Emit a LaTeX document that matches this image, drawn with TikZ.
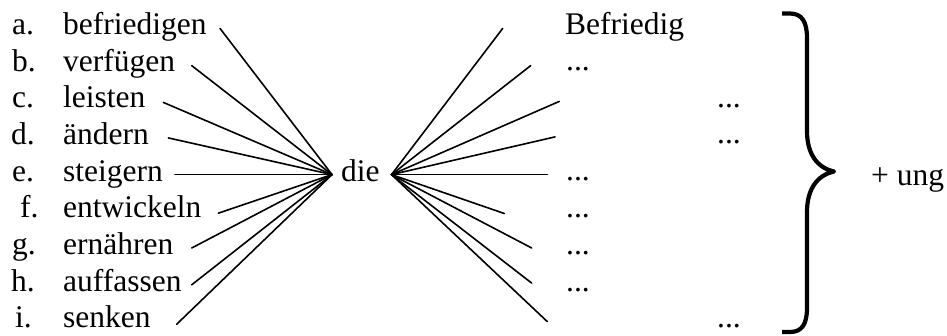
\documentclass[tikz,border=0pt]{standalone}
\usepackage{fontspec}
\setmainfont{Liberation Serif}
\begin{document}
\begin{tikzpicture}[x=1pt,y=-1pt,
  txt/.style={anchor=base west, inner sep=0pt, font=\fontsize{31.5}{36}\selectfont},
  conn/.style={line width=1.6pt, line cap=round},
  bracestyle/.style={line width=4.2pt, line join=round}]
\useasboundingbox (0,0) rectangle (947,335);
% letters
\node[txt] (la) at (12,34.3) {a.};
\node[txt] (lb) at (12,71.0) {b.};
\node[txt] (lc) at (12,107.7) {c.};
\node[txt] (ld) at (11,144.4) {d.};
\node[txt] (le) at (12,181.1) {e.};
\node[txt] (lf) at (20,217.8) {f.};
\node[txt] (lg) at (12,254.5) {g.};
\node[txt] (lh) at (11,291.2) {h.};
\node[txt] (li) at (15,327.9) {i.};
% words
\node[txt] (wa) at (63,34.3) {befriedigen};
\node[txt] (wb) at (63,71.0) {verfügen};
\node[txt] (wc) at (63,107.7) {leisten};
\node[txt] (wd) at (63,144.4) {ändern};
\node[txt] (we) at (63,181.1) {steigern};
\node[txt] (wf) at (63,217.8) {entwickeln};
\node[txt] (wg) at (63,254.5) {ernähren};
\node[txt] (wh) at (63,291.2) {auffassen};
\node[txt] (wi) at (63,327.9) {senken};
% die
\node[txt] (die) at (341,181.1) {die};
\coordinate (dl) at (332,174.6);
\coordinate (dr) at (391.5,174.6);
% left line starts
\coordinate (sa) at (220,28.4);
\coordinate (sb) at (191.7,65.6);
\coordinate (sc) at (163.3,102.4);
\coordinate (sd) at (168.3,137.9);
\coordinate (se) at (175,174.6);
\coordinate (sf) at (218.3,213.2);
\coordinate (sg) at (191.7,248.0);
\coordinate (sh) at (191.7,284.8);
\coordinate (si) at (176.7,324.2);
\foreach \s in {sa,sb,sc,sd,se,sf,sg,sh,si} \draw[conn] (\s) -- (dl);
% right line ends
\coordinate (ea) at (502.7,28.4);
\coordinate (eb) at (530.7,65.6);
\coordinate (ec) at (559.3,101.4);
\coordinate (ed) at (555,136.9);
\coordinate (ee) at (547.3,174.6);
\coordinate (ef) at (504.3,213.5);
\coordinate (eg) at (531.7,248.0);
\coordinate (eh) at (531.7,283.1);
\coordinate (ei) at (547.3,321.6);
\foreach \e in {ea,eb,ec,ed,ee,ef,eg,eh,ei} \draw[conn] (dr) -- (\e);
% right texts
\node[txt] (ra) at (565,34.3) {Befriedig};
\node[txt] (rb) at (566,70.5) {...};
\node[txt] (rc) at (717,107.0) {...};
\node[txt] (rd) at (717,143.5) {...};
\node[txt] (re) at (566,180.8) {...};
\node[txt] (rf) at (566,217.4) {...};
\node[txt] (rg) at (566,254.0) {...};
\node[txt] (rh) at (566,291.0) {...};
\node[txt] (ri) at (717,327.9) {...};
% brace
\draw[bracestyle] (782,13.5) -- (790,13.5)
  .. controls (802,13.5) and (807,22) .. (807,38) -- (807,131)
  .. controls (807,155) and (818,168) .. (834,171.5)
  .. controls (818,175) and (807,188) .. (807,212) -- (807,308)
  .. controls (807,324) and (802,332) .. (790,332) -- (782,332);
\node[txt] (ung) at (871,185.5) {+ ung};
\end{tikzpicture}
\end{document}
